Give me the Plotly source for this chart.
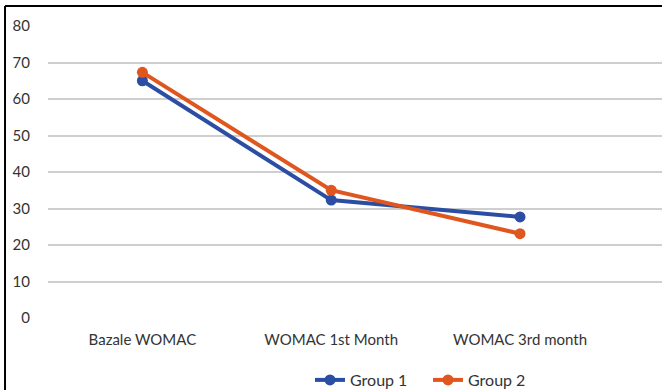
import plotly.graph_objects as go

categories = ["Bazale WOMAC", "WOMAC 1st Month", "WOMAC 3rd month"]
group1 = [65.0, 32.3, 27.7]
group2 = [67.3, 35.0, 23.1]
y_ticks = [0, 10, 20, 30, 40, 50, 60, 70, 80]

blue = "#2b4da3"
orange = "#e0561f"
font_family = "Lato, 'Open Sans', sans-serif"
text_color = "#333333"

fig = go.Figure()
fig.add_trace(go.Scatter(x=categories, y=group1, name="Group 1", mode="lines+markers",
                         line=dict(color=blue, width=4), marker=dict(size=11, color=blue)))
fig.add_trace(go.Scatter(x=categories, y=group2, name="Group 2", mode="lines+markers",
                         line=dict(color=orange, width=4), marker=dict(size=11, color=orange)))

fig.update_layout(
    width=662, height=390,
    margin=dict(l=48, r=0, t=26, b=72),
    paper_bgcolor="white", plot_bgcolor="white",
    font=dict(family=font_family, size=15, color=text_color),
    showlegend=True,
    legend=dict(orientation="h", xref="container", yref="container",
                x=310 / 662, xanchor="left", y=10 / 390, yanchor="middle",
                font=dict(size=16, color=text_color), entrywidth=73, entrywidthmode="pixels",
                itemwidth=30, tracegroupgap=0, bgcolor="rgba(0,0,0,0)"),
    xaxis=dict(type="category", range=[-0.5, 2.752], showgrid=False, showline=False,
               zeroline=False, ticks="", tickfont=dict(size=15, color=text_color), ticklabelstandoff=11),
    yaxis=dict(range=[0, 80], tickvals=y_ticks, showgrid=True, gridcolor="#cfcfcf", gridwidth=1.5,
               zeroline=False, showline=False, ticks="", tickfont=dict(size=15, color=text_color),
               ticklabelstandoff=17),
    shapes=[
        dict(type="line", xref="paper", yref="paper", x0=-0.070, x1=-0.070, y0=-0.3, y1=1.0685,
             line=dict(color="black", width=2)),
        dict(type="line", xref="paper", yref="paper", x0=-0.070, x1=1.1, y0=1.0685, y1=1.0685,
             line=dict(color="black", width=2)),
    ],
)

fig.write_html("out.html", config={"displayModeBar": False},
               post_script="document.body.style.margin='0';document.body.style.overflow='hidden';")
